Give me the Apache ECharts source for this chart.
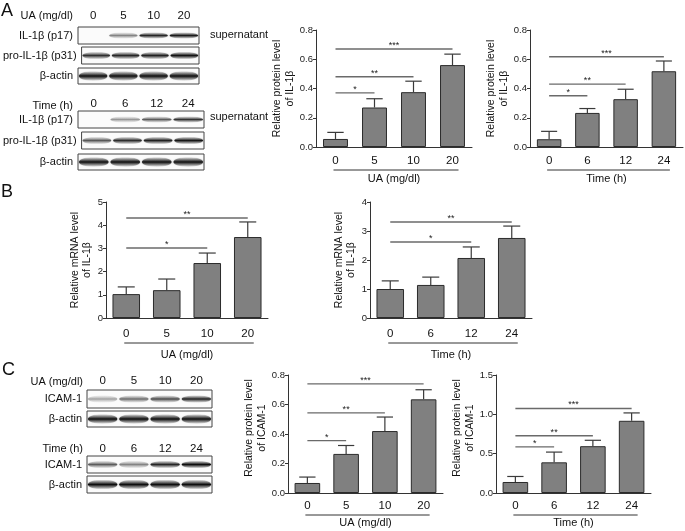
<!DOCTYPE html>
<html><head><meta charset="utf-8">
<script src="https://cdn.jsdelivr.net/npm/echarts@6/dist/echarts.min.js"></script>
<style>html,body{margin:0;padding:0;background:#fff}#c{width:685px;height:531px}</style>
</head><body><div id="c"></div>
<script>
// ---------------- DATA ----------------
const uaDoses = ['0', '5', '10', '20'];
const timePoints = ['0', '6', '12', '24'];

// Y tick labels
const proteinTicksA = ['0.0', '0.2', '0.4', '0.6', '0.8'];
const mRnaTicksUa = ['0', '1', '2', '3', '4', '5'];
const mRnaTicksTime = ['0', '1', '2', '3', '4'];
const proteinTicksCUa = ['0.0', '0.2', '0.4', '0.6', '0.8'];
const proteinTicksCTime = ['0.0', '0.5', '1.0', '1.5'];

// Panel A: IL-1β protein (mean, SEM, significance [toIndex, height, stars])
const aUaMean = [0.055, 0.27, 0.375, 0.56];
const aUaSem = [0.045, 0.06, 0.075, 0.075];
const aUaSig = [[1, 0.37, '*'], [2, 0.48, '**'], [3, 0.67, '***']];
const aTimeMean = [0.053, 0.233, 0.327, 0.518];
const aTimeSem = [0.054, 0.03, 0.068, 0.07];
const aTimeSig = [[1, 0.35, '*'], [2, 0.43, '**'], [3, 0.617, '***']];

// Panel B: IL-1β mRNA
const bUaMean = [1.03, 1.2, 2.37, 3.49];
const bUaSem = [0.31, 0.48, 0.43, 0.65];
const bUaSig = [[2, 3.02, '*'], [3, 4.31, '**']];
const bTimeMean = [1.0, 1.14, 2.07, 2.76];
const bTimeSem = [0.28, 0.27, 0.38, 0.41];
const bTimeSig = [[2, 2.62, '*'], [3, 3.31, '**']];

// Panel C: ICAM-1 protein
const cUaMean = [0.068, 0.265, 0.42, 0.635];
const cUaSem = [0.04, 0.057, 0.095, 0.065];
const cUaSig = [[1, 0.355, '*'], [2, 0.543, '**'], [3, 0.74, '***']];
const cTimeMean = [0.14, 0.39, 0.595, 0.918];
const cTimeSem = [0.07, 0.13, 0.075, 0.10];
const cTimeSig = [[1, 0.586, '*'], [2, 0.727, '**'], [3, 1.075, '***']];

// Western blot band intensities (0..1) per lane
const blotAUaP17 = [0, 0.45, 0.85, 0.92];
const blotAUaPro = [0.8, 0.85, 0.88, 0.97];
const blotAUaActin = [1, 1, 1, 1];
const blotATimeP17 = [0, 0.38, 0.6, 0.78];
const blotATimePro = [0.62, 0.82, 0.88, 0.95];
const blotATimeActin = [1, 1, 1, 1];
const blotCUaIcam = [0.35, 0.55, 0.68, 0.88];
const blotCUaActin = [1, 1, 1, 1];
const blotCTimeIcam = [0.6, 0.45, 0.85, 1];
const blotCTimeActin = [1, 1, 1, 1];

// ---------------- BUILD ----------------
const FONT = "'Liberation Sans', Arial, sans-serif";
const grids = [], xAxes = [], yAxes = [], series = [], graphics = [];

function addChart(cfg) {
  const gi = grids.length;
  grids.push({ left: cfg.box[0], top: cfg.box[1], width: cfg.box[2], height: cfg.box[3] });
  const t = cfg.ticks, t0 = parseFloat(t[0]), step = parseFloat(t[1]) - t0;
  xAxes.push({
    type: 'category', gridIndex: gi, data: cfg.cats, boundaryGap: true,
    axisLine: { lineStyle: { color: '#333', width: 1 } },
    axisTick: { alignWithLabel: true, length: 3, lineStyle: { color: '#333' } },
    axisLabel: { fontSize: 11.5, color: '#111', margin: cfg.xMargin, fontFamily: FONT },
    name: cfg.xName, nameLocation: 'middle', nameGap: cfg.xNameGap,
    nameTextStyle: { fontSize: 11, color: '#111', fontFamily: FONT }
  });
  yAxes.push({
    type: 'value', gridIndex: gi, min: t0, max: parseFloat(t[t.length - 1]), interval: step,
    splitLine: { show: false },
    axisLine: { show: true, lineStyle: { color: '#333' } },
    axisTick: { show: true, length: 3, lineStyle: { color: '#333' } },
    axisLabel: { fontSize: 9.5, color: '#222', margin: 3, fontFamily: FONT,
      formatter: v => t[Math.round((v - t0) / step)] },
    name: cfg.yName, nameLocation: 'middle', nameRotate: 90, nameGap: cfg.yGap,
    nameTextStyle: { fontSize: 10.5, lineHeight: 12.5, color: '#111', fontFamily: FONT,
      padding: cfg.yPad || 0 }
  });
  series.push({
    type: 'bar', xAxisIndex: gi, yAxisIndex: gi, data: cfg.mean, barWidth: cfg.barW,
    itemStyle: { color: '#808080', borderColor: '#2b2b2b', borderWidth: 1 }, silent: true
  });
  series.push({
    type: 'custom', xAxisIndex: gi, yAxisIndex: gi, z: 3, silent: true,
    encode: { x: 0, y: [1, 2] },
    data: cfg.mean.map((m, i) => [i, m, m + cfg.sem[i]]),
    renderItem(params, api) {
      const base = api.coord([api.value(0), api.value(1)]);
      const top = api.coord([api.value(0), api.value(2)]);
      const hw = api.size([1, 0])[0] * 0.21;
      const st = { stroke: '#3a3a3a', lineWidth: 1.2 };
      return { type: 'group', children: [
        { type: 'line', shape: { x1: top[0], y1: base[1], x2: top[0], y2: top[1] }, style: st },
        { type: 'line', shape: { x1: top[0] - hw, y1: top[1], x2: top[0] + hw, y2: top[1] }, style: st }
      ] };
    }
  });
  series.push({
    type: 'custom', xAxisIndex: gi, yAxisIndex: gi, z: 4, silent: true,
    encode: { x: 0, y: 1 },
    data: cfg.sig.map(s => [s[0], s[1]]),
    renderItem(params, api) {
      const p0 = api.coord([0, api.value(1)]);
      const p1 = api.coord([api.value(0), api.value(1)]);
      return { type: 'group', children: [
        { type: 'line', shape: { x1: p0[0], y1: p0[1], x2: p1[0], y2: p1[1] },
          style: { stroke: '#6a6a6a', lineWidth: 1.4 } },
        { type: 'text', x: (p0[0] + p1[0]) / 2, y: p0[1] + 1,
          style: { text: cfg.sig[params.dataIndex][2], fontSize: 9, fill: '#222',
            align: 'center', verticalAlign: 'bottom', fontFamily: FONT } }
      ] };
    }
  });
  // grouping underline below category labels
  series.push({
    type: 'custom', xAxisIndex: gi, yAxisIndex: gi, z: 4, silent: true,
    encode: { x: 0, y: 1 },
    data: [[cfg.cats.length - 1, t0]],
    renderItem(params, api) {
      const p0 = api.coord([0, api.value(1)]);
      const p1 = api.coord([api.value(0), api.value(1)]);
      const y = p0[1] + cfg.ulOffset;
      return { type: 'line', shape: { x1: p0[0] - 2, y1: y, x2: p1[0] + 6, y2: y },
        style: { stroke: '#333', lineWidth: 1 } };
    }
  });
}

function addBlot(cfg) {
  const gi = grids.length;
  grids.push({ left: cfg.box[0], top: cfg.box[1], width: cfg.box[2], height: cfg.box[3],
    show: true, borderColor: '#444', borderWidth: 1, backgroundColor: '#fbfbfb' });
  xAxes.push({
    type: 'category', gridIndex: gi, data: cfg.lanes, position: 'top', boundaryGap: true,
    axisLine: { show: false }, axisTick: { show: false }, splitLine: { show: false },
    axisLabel: { show: !!cfg.header, margin: cfg.headerMargin || 4, fontSize: 11.5, color: '#111', fontFamily: FONT }
  });
  yAxes.push({
    type: 'category', gridIndex: gi, data: [cfg.label],
    axisLine: { show: false }, axisTick: { show: false }, splitLine: { show: false },
    axisLabel: { fontSize: 11, color: '#111', margin: 5, fontFamily: FONT }
  });
  series.push({
    type: 'custom', xAxisIndex: gi, yAxisIndex: gi, silent: true,
    encode: { x: 0, y: 1 },
    data: cfg.bands.map((b, i) => [i, 0, b]),
    renderItem(params, api) {
      const v = api.value(2);
      if (!(v > 0.01)) return null;
      const c = api.coord([api.value(0), 0]);
      const w = api.size([1, 0])[0] * 0.94;
      const h = cfg.bandH * 2.2;
      const dark = 'rgba(15,15,15,' + v + ')';
      const mid = 'rgba(40,40,40,' + (v * 0.55) + ')';
      return { type: 'ellipse', shape: { cx: c[0], cy: c[1], rx: w / 2, ry: h / 2 },
        style: { fill: new echarts.graphic.LinearGradient(0, 0, 0, 1, [
          { offset: 0, color: 'rgba(40,40,40,0)' },
          { offset: 0.3, color: mid },
          { offset: 0.5, color: dark },
          { offset: 0.7, color: mid },
          { offset: 1, color: 'rgba(40,40,40,0)' }
        ]), shadowBlur: 2, shadowColor: mid } };
    }
  });
}

// charts
addChart({ cats: uaDoses, mean: aUaMean, sem: aUaSem, sig: aUaSig, ticks: proteinTicksA,
  box: [316, 30, 156, 117], barW: '64%', xMargin: 8, xName: 'UA (mg/dl)', xNameGap: 26, ulOffset: 23,
  yName: 'Relative protein level\nof IL-1β', yGap: 13 });
addChart({ cats: timePoints, mean: aTimeMean, sem: aTimeSem, sig: aTimeSig, ticks: proteinTicksA,
  box: [530, 30, 153, 117], barW: '64%', xMargin: 8, xName: 'Time (h)', xNameGap: 26, ulOffset: 23,
  yName: 'Relative protein level\nof IL-1β', yGap: 16 });
addChart({ cats: uaDoses, mean: bUaMean, sem: bUaSem, sig: bUaSig, ticks: mRnaTicksUa,
  box: [106, 202, 162, 116], barW: '68%', xMargin: 10, xName: 'UA (mg/dl)', xNameGap: 31, ulOffset: 25,
  yName: 'Relative mRNA level\nof IL-1β', yGap: 10 });
addChart({ cats: timePoints, mean: bTimeMean, sem: bTimeSem, sig: bTimeSig, ticks: mRnaTicksTime,
  box: [370, 202, 162, 116], barW: '68%', xMargin: 10, xName: 'Time (h)', xNameGap: 31, ulOffset: 25,
  yName: 'Relative mRNA level\nof IL-1β', yGap: 11 });
addChart({ cats: uaDoses, mean: cUaMean, sem: cUaSem, sig: cUaSig, ticks: proteinTicksCUa,
  box: [288, 375, 155, 118], barW: '66%', xMargin: 7, xName: 'UA (mg/dl)', xNameGap: 24, ulOffset: 22,
  yName: 'Relative protein level\nof ICAM-1', yGap: 17, yPad: [0, 0, 0, 12] });
addChart({ cats: timePoints, mean: cTimeMean, sem: cTimeSem, sig: cTimeSig, ticks: proteinTicksCTime,
  box: [496, 375, 155, 118], barW: '66%', xMargin: 7, xName: 'Time (h)', xNameGap: 24, ulOffset: 22,
  yName: 'Relative protein level\nof ICAM-1', yGap: 13, yPad: [0, 0, 0, 12] });

// blots
addBlot({ lanes: uaDoses, header: true, headerMargin: 5, label: 'IL-1β (p17)', bands: blotAUaP17, box: [78, 27, 121, 17], bandH: 3 });
addBlot({ lanes: uaDoses, label: 'pro-IL-1β (p31)', bands: blotAUaPro, box: [78, 47, 121, 17], bandH: 3.5 });
addBlot({ lanes: uaDoses, label: 'β-actin', bands: blotAUaActin, box: [78, 68, 121, 16], bandH: 4.5 });
addBlot({ lanes: timePoints, header: true, headerMargin: 1, label: 'IL-1β (p17)', bands: blotATimeP17, box: [78, 111, 126, 17], bandH: 3 });
addBlot({ lanes: timePoints, label: 'pro-IL-1β (p31)', bands: blotATimePro, box: [78, 132, 126, 17], bandH: 3.5 });
addBlot({ lanes: timePoints, label: 'β-actin', bands: blotATimeActin, box: [78, 154, 126, 16], bandH: 4.5 });
addBlot({ lanes: uaDoses, header: true, headerMargin: 3, label: 'ICAM-1', bands: blotCUaIcam, box: [87, 390, 125, 18], bandH: 3.5 });
addBlot({ lanes: uaDoses, label: 'β-actin', bands: blotCUaActin, box: [87, 411, 125, 16], bandH: 4.5 });
addBlot({ lanes: timePoints, header: true, headerMargin: 1, label: 'ICAM-1', bands: blotCTimeIcam, box: [87, 456, 125, 17], bandH: 3.5 });
addBlot({ lanes: timePoints, label: 'β-actin', bands: blotCTimeActin, box: [87, 476, 125, 17], bandH: 4.5 });

// static text
function txt(text, x, y, size, align) {
  graphics.push({ type: 'text', x, y, silent: true,
    style: { text, fontSize: size, fill: '#111', fontFamily: FONT, align: align || 'left', verticalAlign: 'middle' } });
}
txt('A', 1, 11, 18); txt('B', 1, 192, 18); txt('C', 2, 370, 18);
txt('UA (mg/dl)', 73, 16, 11, 'right');
txt('Time (h)', 73, 106, 11, 'right');
txt('supernatant', 210, 35, 11);
txt('supernatant', 210, 117, 11);
txt('UA (mg/dl)', 83, 382, 11, 'right');
txt('Time (h)', 83, 449, 11, 'right');

const chart = echarts.init(document.getElementById('c'), null, { renderer: 'canvas' });
chart.setOption({
  animation: false,
  backgroundColor: '#fff',
  textStyle: { fontFamily: FONT },
  grid: grids, xAxis: xAxes, yAxis: yAxes, series: series, graphic: graphics
});
</script></body></html>
